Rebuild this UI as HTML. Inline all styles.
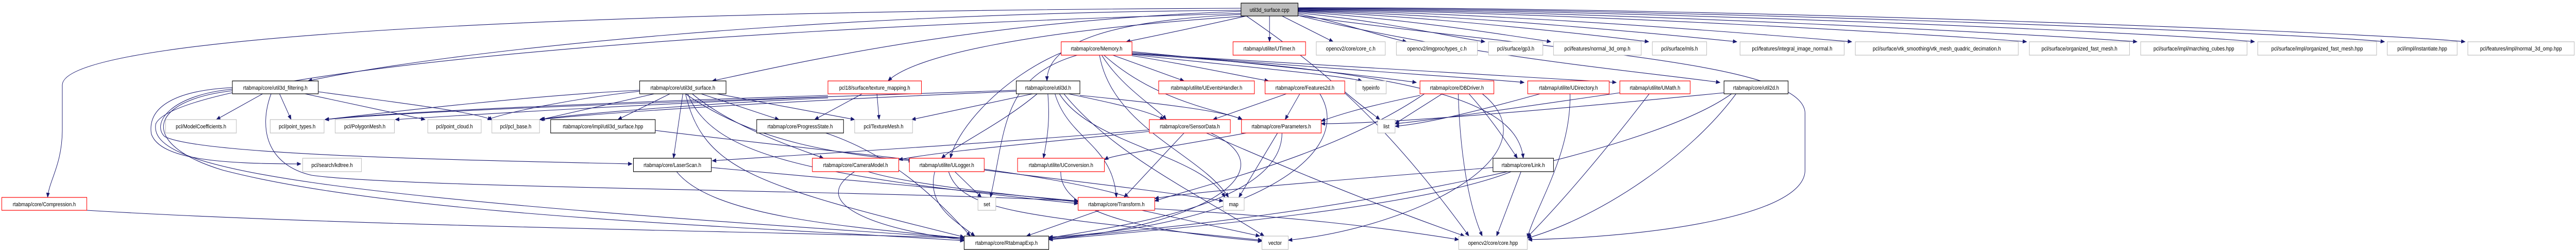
<!DOCTYPE html>
<html><head><meta charset="utf-8"><style>
html,body{margin:0;padding:0;background:#fff;width:100%;height:100%;overflow:hidden;}
svg{display:block;position:absolute;left:0;top:0;width:100%;height:100%;}
text{font-family:"Liberation Sans",sans-serif;font-size:11px;fill:#000;}
.e{fill:none;stroke:#191970;stroke-width:1.1;marker-end:url(#ah);}
.g{fill:#fff;stroke:#bfbfbf;stroke-width:1.2;}
.r{fill:#fff;stroke:#ff0000;stroke-width:1.2;}
.b{fill:#fff;stroke:#000;stroke-width:1.2;}
</style></head><body>
<svg viewBox="0 0 5787 485" preserveAspectRatio="none" xmlns="http://www.w3.org/2000/svg">
<defs><marker id="ah" markerUnits="userSpaceOnUse" markerWidth="10" markerHeight="8" refX="9" refY="4" orient="auto"><path d="M0,0 L10,4 L0,8 z" fill="#191970"/></marker></defs>
<g>
<path class="e" d="M2800 31 Q2650 60 2530 81"/>
<path class="e" d="M2852 31 L2852 81"/>
<path class="e" d="M2880 31 L2995 81"/>
<path class="e" d="M2916 27 C3000 40 3100 70 3160 81"/>
<path class="e" d="M2916 25 C3100 40 3250 70 3336 81"/>
<path class="e" d="M2916 23 C3150 35 3400 70 3484 81"/>
<path class="e" d="M2916 22 C3200 30 3600 70 3704 81"/>
<path class="e" d="M2916 21 C3300 28 3800 72 3902 81"/>
<path class="e" d="M2916 20 C3400 25 4000 70 4160 81"/>
<path class="e" d="M2916 19 C3500 22 4400 70 4553 81"/>
<path class="e" d="M2916 18 C3600 20 4600 68 4801 81"/>
<path class="e" d="M2916 17 C3700 18 4900 66 5065 81"/>
<path class="e" d="M2916 16 C3800 16 5200 66 5357 81"/>
<path class="e" d="M2916 15 C3900 14 5350 64 5538 81"/>
<path class="e" d="M2788 20 C1800 25 1000 100 692 157"/>
<path class="e" d="M2788 22 C2200 40 1800 120 1600 157"/>
<path class="e" d="M2800 31 C2300 60 2050 110 1995 157"/>
<path class="e" d="M2788 28 C2500 40 2352 80 2352 157"/>
<path class="e" d="M2788 16 C1500 20 140 60 140 165 L140 250 C140 320 110 350 107 383"/>
<path class="e" d="M2788 26 C1400 60 400 150 350 240 C330 330 700 380 2166 462"/>
<path class="e" d="M2916 30 C3500 100 4055 120 4055 220 L4055 330 C4055 420 3700 460 3433 465"/>
<path class="e" d="M2916 30 C3300 110 3700 140 3864 160"/>
<path class="e" d="M2543 100 C2900 130 3100 150 3182 160"/>
<path class="e" d="M2543 102 C3000 135 3300 150 3424 160"/>
<path class="e" d="M2543 104 C3100 135 3500 150 3631 160"/>
<path class="e" d="M2543 106 C2800 130 3000 145 3060 157"/>
<path class="e" d="M2500 107 L2660 157"/>
<path class="e" d="M2543 108 C2700 130 2800 150 2850 157"/>
<path class="e" d="M2475 107 C2520 170 2600 210 2620 232"/>
<path class="e" d="M2480 107 C2600 200 2750 215 2790 232"/>
<path class="e" d="M2470 107 C2500 250 2700 300 2760 383"/>
<path class="e" d="M2420 107 C2250 150 2260 250 2225 383"/>
<path class="e" d="M2390 100 C2250 150 2150 250 2135 307"/>
<path class="e" d="M2543 105 C3200 140 3410 200 3422 307"/>
<path class="e" d="M2800 31 C2950 120 3100 220 3300 458"/>
<path class="e" d="M2320 182 L2048 232"/>
<path class="e" d="M2283 175 C1800 190 1000 210 730 232"/>
<path class="e" d="M2283 177 C1800 195 1400 215 1212 232"/>
<path class="e" d="M2330 182 C2250 240 2150 280 2115 307"/>
<path class="e" d="M2354 182 C2360 240 2350 280 2344 307"/>
<path class="e" d="M2400 182 C2500 200 2580 215 2615 232"/>
<path class="e" d="M2426 185 C2600 200 2750 215 2791 232"/>
<path class="e" d="M2370 182 C2400 270 2500 280 2508 383"/>
<path class="e" d="M2380 182 C2450 280 2700 300 2752 383"/>
<path class="e" d="M2390 182 C2500 300 2700 380 2840 458"/>
<path class="e" d="M1437 175 C1200 185 900 215 730 232"/>
<path class="e" d="M1437 177 C1300 190 1150 215 1095 232"/>
<path class="e" d="M1470 182 L1215 232"/>
<path class="e" d="M1505 182 L1388 232"/>
<path class="e" d="M1575 182 L1750 232"/>
<path class="e" d="M1610 182 L1920 232"/>
<path class="e" d="M1534 182 L1513 307"/>
<path class="e" d="M1555 182 C1650 250 1800 290 1850 307"/>
<path class="e" d="M1545 182 C1600 300 1800 340 2422 395"/>
<path class="e" d="M1540 182 C1580 330 1700 360 2166 460"/>
<path class="e" d="M1540 182 C1700 280 1900 300 2050 312"/>
<path class="e" d="M1937 182 L1830 232"/>
<path class="e" d="M1970 182 L1975 232"/>
<path class="e" d="M1860 185 C1500 195 900 215 730 232"/>
<path class="e" d="M1860 188 C1500 200 1100 220 888 232"/>
<path class="e" d="M1860 190 C1600 200 1300 220 1212 232"/>
<path class="e" d="M590 182 L486 232"/>
<path class="e" d="M628 182 L654 232"/>
<path class="e" d="M685 182 L955 232"/>
<path class="e" d="M715 178 C900 200 1050 215 1105 232"/>
<path class="e" d="M522 170 C400 175 330 205 340 260 C360 310 500 318 676 318"/>
<path class="e" d="M522 173 C380 185 340 240 370 265 C450 300 1000 310 1420 318"/>
<path class="e" d="M522 176 C330 195 310 280 500 330 C900 420 1700 440 2166 467"/>
<path class="e" d="M609 182 C580 250 600 320 700 340 C900 365 2000 370 2422 390"/>
<path class="e" d="M195 408 C800 440 1800 450 2166 462"/>
<path class="e" d="M2660 258 L2525 383"/>
<path class="e" d="M2582 252 C2200 280 1800 300 1600 312"/>
<path class="e" d="M2582 255 C2300 280 2100 295 2019 310"/>
<path class="e" d="M2710 258 C2900 330 3100 400 3290 458"/>
<path class="e" d="M2720 258 C2900 330 2700 440 2356 464"/>
<path class="e" d="M2870 258 L2783 383"/>
<path class="e" d="M2800 258 C2600 290 2500 300 2481 310"/>
<path class="e" d="M2880 258 C2880 400 2500 440 2356 462"/>
<path class="e" d="M2145 333 L2205 383"/>
<path class="e" d="M2211 330 C2400 350 2600 370 2748 390"/>
<path class="e" d="M2131 333 C2160 410 2300 420 2835 466"/>
<path class="e" d="M2100 333 C2080 400 2150 430 2190 458"/>
<path class="e" d="M2383 333 C2380 420 2600 450 2835 468"/>
<path class="e" d="M2470 408 L2306 458"/>
<path class="e" d="M2565 408 L2830 458"/>
<path class="e" d="M2594 405 C2900 420 3100 440 3277 465"/>
<path class="e" d="M3417 333 L3362 458"/>
<path class="e" d="M3354 325 C3000 350 2700 370 2594 385"/>
<path class="e" d="M3395 333 C3200 400 2700 440 2356 465"/>
<path class="e" d="M3240 182 L3134 240"/>
<path class="e" d="M3300 182 C3350 230 3380 270 3409 307"/>
<path class="e" d="M3276 182 C3280 300 3300 400 3330 458"/>
<path class="e" d="M3190 185 C3050 210 3000 225 2968 235"/>
<path class="e" d="M3200 182 C3000 300 2700 360 2594 390"/>
<path class="e" d="M3330 182 C3500 300 3180 440 2894 466"/>
<path class="e" d="M3460 182 C3300 220 3200 240 3134 245"/>
<path class="e" d="M3527 182 C3530 300 3450 400 3431 462"/>
<path class="e" d="M3639 180 C3400 210 3200 235 3134 240"/>
<path class="e" d="M3705 182 C3600 300 3500 400 3431 460"/>
<path class="e" d="M3900 182 C3800 300 3600 420 3431 462"/>
<path class="e" d="M3873 180 C3400 220 3100 240 2968 240"/>
<path class="e" d="M3890 182 C3700 300 3000 420 2356 462"/>
<path class="e" d="M2890 182 L2725 232"/>
<path class="e" d="M2920 182 L2887 232"/>
<path class="e" d="M3021 178 C3050 200 3090 225 3100 232"/>
<path class="e" d="M2965 182 C3050 300 2800 440 2356 460"/>
<path class="e" d="M1598 325 C1900 350 2200 370 2422 390"/>
<path class="e" d="M1520 333 C1600 420 1900 440 2166 462"/>
<path class="e" d="M1950 333 C2050 360 2300 380 2422 392"/>
<path class="e" d="M1920 333 C1800 400 2000 450 2166 465"/>
<path class="e" d="M1472 253 C1900 300 2400 330 2594 400"/>
<path class="e" d="M1855 258 C2000 300 2100 380 2180 458"/>
</g>
<g>
<rect class="b" x="2788" y="6" width="128" height="25" style="fill:#bfbfbf"/><text x="2852" y="23" text-anchor="middle">util3d_surface.cpp</text>
<rect class="r" x="2384" y="81" width="159" height="26"/><text x="2463.5" y="98" text-anchor="middle">rtabmap/core/Memory.h</text>
<rect class="r" x="2770" y="81" width="163" height="26"/><text x="2851.5" y="98" text-anchor="middle">rtabmap/utilite/UTimer.h</text>
<rect class="g" x="2957" y="81" width="155" height="26"/><text x="3034.5" y="98" text-anchor="middle">opencv2/core/core_c.h</text>
<rect class="g" x="3137" y="81" width="182" height="26"/><text x="3228" y="98" text-anchor="middle">opencv2/imgproc/types_c.h</text>
<rect class="g" x="3344" y="81" width="122" height="26"/><text x="3405" y="98" text-anchor="middle">pcl/surface/gp3.h</text>
<rect class="g" x="3490" y="81" width="197" height="26"/><text x="3588.5" y="98" text-anchor="middle">pcl/features/normal_3d_omp.h</text>
<rect class="g" x="3712" y="81" width="122" height="26"/><text x="3773" y="98" text-anchor="middle">pcl/surface/mls.h</text>
<rect class="g" x="3909" y="81" width="234" height="26"/><text x="4026" y="98" text-anchor="middle">pcl/features/integral_image_normal.h</text>
<rect class="g" x="4168" y="81" width="366" height="26"/><text x="4351" y="98" text-anchor="middle">pcl/surface/vtk_smoothing/vtk_mesh_quadric_decimation.h</text>
<rect class="g" x="4559" y="81" width="225" height="26"/><text x="4671.5" y="98" text-anchor="middle">pcl/surface/organized_fast_mesh.h</text>
<rect class="g" x="4809" y="81" width="239" height="26"/><text x="4928.5" y="98" text-anchor="middle">pcl/surface/impl/marching_cubes.hpp</text>
<rect class="g" x="5072" y="81" width="267" height="26"/><text x="5205.5" y="98" text-anchor="middle">pcl/surface/impl/organized_fast_mesh.hpp</text>
<rect class="g" x="5363" y="81" width="157" height="26"/><text x="5441.5" y="98" text-anchor="middle">pcl/impl/instantiate.hpp</text>
<rect class="g" x="5544" y="81" width="239" height="26"/><text x="5663.5" y="98" text-anchor="middle">pcl/features/impl/normal_3d_omp.hpp</text>

<rect class="b" x="522" y="157" width="193" height="25"/><text x="618.5" y="174" text-anchor="middle">rtabmap/core/util3d_filtering.h</text>
<rect class="b" x="1437" y="157" width="194" height="25"/><text x="1534" y="174" text-anchor="middle">rtabmap/core/util3d_surface.h</text>
<rect class="r" x="1860" y="157" width="210" height="25"/><text x="1965" y="174" text-anchor="middle">pcl18/surface/texture_mapping.h</text>
<rect class="b" x="2283" y="157" width="143" height="25"/><text x="2354.5" y="174" text-anchor="middle">rtabmap/core/util3d.h</text>
<rect class="r" x="2603" y="157" width="215" height="25"/><text x="2710.5" y="174" text-anchor="middle">rtabmap/utilite/UEventsHandler.h</text>
<rect class="r" x="2842" y="157" width="179" height="25"/><text x="2931.5" y="174" text-anchor="middle">rtabmap/core/Features2d.h</text>
<rect class="g" x="3046" y="157" width="68" height="25"/><text x="3080" y="174" text-anchor="middle">typeinfo</text>
<rect class="r" x="3190" y="157" width="166" height="25"/><text x="3273" y="174" text-anchor="middle">rtabmap/core/DBDriver.h</text>
<rect class="r" x="3432" y="157" width="183" height="25"/><text x="3523.5" y="174" text-anchor="middle">rtabmap/utilite/UDirectory.h</text>
<rect class="r" x="3639" y="157" width="158" height="25"/><text x="3718" y="174" text-anchor="middle">rtabmap/utilite/UMath.h</text>
<rect class="b" x="3873" y="157" width="144" height="25"/><text x="3945" y="174" text-anchor="middle">rtabmap/core/util2d.h</text>

<rect class="g" x="372" y="232" width="159" height="26"/><text x="451.5" y="249" text-anchor="middle">pcl/ModelCoefficients.h</text>
<rect class="g" x="607" y="232" width="121" height="26"/><text x="667.5" y="249" text-anchor="middle">pcl/point_types.h</text>
<rect class="g" x="753" y="232" width="133" height="26"/><text x="819.5" y="249" text-anchor="middle">pcl/PolygonMesh.h</text>
<rect class="g" x="961" y="232" width="120" height="26"/><text x="1021" y="249" text-anchor="middle">pcl/point_cloud.h</text>
<rect class="g" x="1105" y="232" width="107" height="26"/><text x="1158.5" y="249" text-anchor="middle">pcl/pcl_base.h</text>
<rect class="b" x="1237" y="232" width="235" height="26"/><text x="1354.5" y="249" text-anchor="middle">rtabmap/core/impl/util3d_surface.hpp</text>
<rect class="b" x="1700" y="232" width="195" height="26"/><text x="1797.5" y="249" text-anchor="middle">rtabmap/core/ProgressState.h</text>
<rect class="g" x="1920" y="232" width="130" height="26"/><text x="1985" y="249" text-anchor="middle">pcl/TextureMesh.h</text>
<rect class="r" x="2582" y="232" width="182" height="26"/><text x="2673" y="249" text-anchor="middle">rtabmap/core/SensorData.h</text>
<rect class="r" x="2789" y="232" width="179" height="26"/><text x="2878.5" y="249" text-anchor="middle">rtabmap/core/Parameters.h</text>
<rect class="g" x="3095" y="232" width="39" height="26"/><text x="3114.5" y="249" text-anchor="middle">list</text>

<rect class="g" x="680" y="307" width="132" height="26"/><text x="746" y="324" text-anchor="middle">pcl/search/kdtree.h</text>
<rect class="b" x="1423" y="307" width="175" height="26"/><text x="1510.5" y="324" text-anchor="middle">rtabmap/core/LaserScan.h</text>
<rect class="r" x="1825" y="307" width="194" height="26"/><text x="1922" y="324" text-anchor="middle">rtabmap/core/CameraModel.h</text>
<rect class="r" x="2043" y="307" width="168" height="26"/><text x="2127" y="324" text-anchor="middle">rtabmap/utilite/ULogger.h</text>
<rect class="r" x="2286" y="307" width="195" height="26"/><text x="2383.5" y="324" text-anchor="middle">rtabmap/utilite/UConversion.h</text>
<rect class="b" x="3354" y="307" width="136" height="26"/><text x="3422" y="324" text-anchor="middle">rtabmap/core/Link.h</text>

<rect class="r" x="4" y="383" width="191" height="25"/><text x="99.5" y="400" text-anchor="middle">rtabmap/core/Compression.h</text>
<rect class="g" x="2197" y="383" width="40" height="25"/><text x="2217" y="400" text-anchor="middle">set</text>
<rect class="r" x="2422" y="383" width="172" height="25"/><text x="2508" y="400" text-anchor="middle">rtabmap/core/Transform.h</text>
<rect class="g" x="2748" y="383" width="47" height="25"/><text x="2771.5" y="400" text-anchor="middle">map</text>

<rect class="b" x="2166" y="458" width="190" height="26"/><text x="2261" y="475" text-anchor="middle">rtabmap/core/RtabmapExp.h</text>
<rect class="g" x="2835" y="458" width="59" height="26"/><text x="2864.5" y="475" text-anchor="middle">vector</text>
<rect class="g" x="3277" y="458" width="154" height="26"/><text x="3354" y="475" text-anchor="middle">opencv2/core/core.hpp</text>
</g>
</svg>
</body></html>
